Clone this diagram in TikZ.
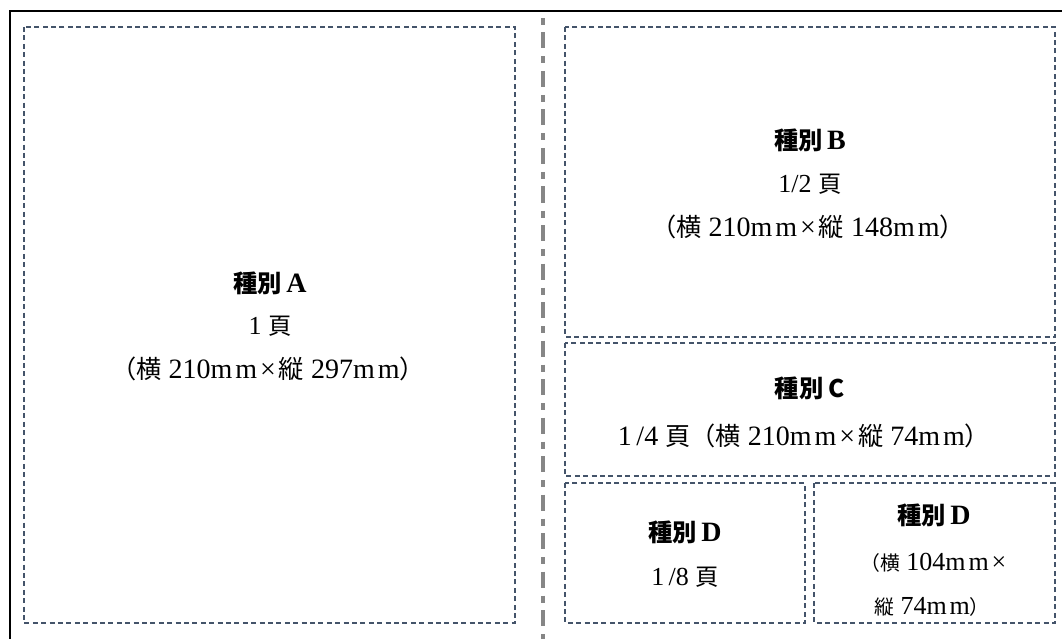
\documentclass[tikz,border=0pt]{standalone}
\usepackage{fontspec}
\setmainfont{Liberation Serif}
\newfontfamily\cjk{Noto Sans CJK JP}[Scale=0.9]
\newcommand{\jp}[1]{{\cjk #1}}
\newcommand{\jps}[1]{{\cjk\fontsize{22}{26}\selectfont #1}}
\newcommand{\kind}[1]{{\cjk\bfseries 種別}\,{\fontsize{28}{32}\selectfont #1}}
\newcommand{\mmu}{m\kern3pt m}
\newcommand{\by}{\kern3pt×\kern3pt}
\definecolor{boxblue}{HTML}{44546A}
\definecolor{midgrey}{HTML}{868686}
\begin{document}
\begin{tikzpicture}[x=1pt, y=-1pt]
	\tikzset{box/.style={draw=boxblue, dash pattern=on 5pt off 3.4pt, line width=1.2pt},
		txt/.style={font=\fontsize{26}{30}\selectfont, inner sep=0pt},
		dim/.style={font=\fontsize{28}{32}\selectfont, inner sep=0pt},
		hd/.style={font=\fontsize{27}{30}\selectfont\bfseries, inner sep=0pt}};

	\useasboundingbox (0,0) rectangle (1062,639);
	\clip (0,0) rectangle (1062,639);

	% frame and middle fold
	\draw[line width=2.5pt] (1080,11) -- (10,11) -- (10,660);
	\draw[midgrey, line width=3.5pt, dash pattern=on 7pt off 7.5pt on 16pt off 8pt] (543,18) -- (543,660);

	% boxes
	\draw[box] (24,27) rectangle (515,623);
	\draw[box] (565,27) rectangle (1055,337);
	\draw[box] (565,343) rectangle (1055,476);
	\draw[box] (565,483) rectangle (805,623);
	\draw[box] (814,483) rectangle (1055,623);

	\node[hd] (a1) at (270,283) {\kind{A}};
	\node[txt] (a2) at (270,326) {1 \jp{頁}};
	\node[dim] (a3) at (268,369) {\jp{（横} 210\mmu\by\jp{縦} 297\mmu\jp{）}};

	\node[hd] (b1) at (810,140) {\kind{B}};
	\node[txt] (b2) at (810,184) {1/2 \jp{頁}};
	\node[dim] (b3) at (808,227) {\jp{（横} 210\mmu\by\jp{縦} 148\mmu\jp{）}};

	\node[hd] (c1) at (810,388) {\jp{種別 C}};
	\node[dim] (c2) at (804,436) {1\,/4 \jp{頁（横} 210\mmu\by\jp{縦} 74\mmu\jp{）}};

	\node[hd] (d1) at (685,532) {\kind{D}};
	\node[txt] (d2) at (685,577) {1\,/8 \jp{頁}};

	\node[hd] (e1) at (934,515) {\kind{D}};
	\node[txt, anchor=west] (e2) at (860,563) {\jps{（横} 104\mmu\by};
	\node[txt, anchor=west] (e3) at (874,607) {\jps{縦} 74\mmu\jps{）}};
\end{tikzpicture}
\end{document}
